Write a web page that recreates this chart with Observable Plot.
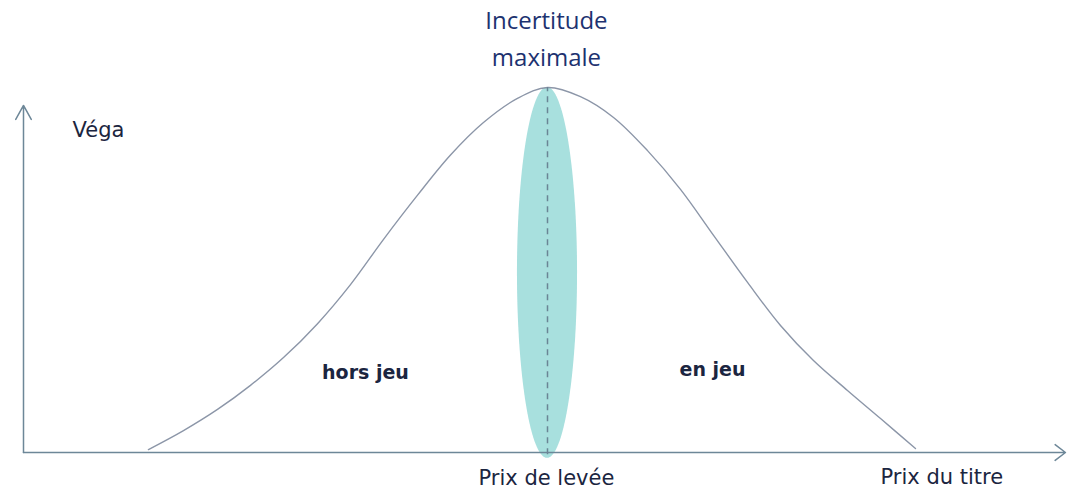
<!DOCTYPE html>
<html>
<head>
<meta charset="utf-8">
<script src="https://cdn.jsdelivr.net/npm/d3@7"></script>
<script src="https://cdn.jsdelivr.net/npm/@observablehq/plot@0.6"></script>
<style>
  html, body { margin: 0; padding: 0; background: #ffffff; }
  #chart svg { display: block; }
</style>
</head>
<body>
<div id="chart"></div>
<script>
// Vega curve: underlying price vs vega (normalised, peak = 1)
const prices = [11.98, 15.34, 18.60, 21.76, 24.93, 28.19, 31.35, 34.52, 37.78, 40.94, 44.10, 47.36, 50.24,
                53.40, 56.57, 59.83, 62.99, 66.16, 69.42, 72.58, 75.74, 79.00, 82.17, 85.52];
const vegas  = [0.008, 0.060, 0.118, 0.184, 0.260, 0.353, 0.460, 0.584, 0.705, 0.815, 0.904, 0.970, 1.000,
                0.975, 0.918, 0.827, 0.721, 0.595, 0.466, 0.348, 0.252, 0.170, 0.093, 0.011];

// Strike (prix de levée) and the uncertainty zone around it
const strike = 50.24;
const zoneHalfWidth = 2.88;   // in price units
const zoneBottom = -0.016;    // in vega units
const zoneTop = 1.0;

// Axis extents
const xAxisEnd = 99.9;
const yAxisEnd = 0.951;

// Labels
const labelTexts = ["Véga", "hors jeu", "en jeu", "Prix de levée", "Prix du titre"];
const labelX     = [4.70, 32.79, 66.06, 50.14, 82.17];
const labelY     = [0.882, 0.219, 0.225, -0.071, -0.068];
const labelAnchor = ["start", "middle", "middle", "middle", "start"];
const labelWeight = ["normal", "bold", "bold", "normal", "normal"];
const titleText = "Incertitude\nmaximale";
const titleX = 50.14;
const titleY = 1.143;

const curve = prices.map((p, i) => ({price: p, vega: vegas[i]}));
const labels = labelTexts.map((t, i) => ({text: t, x: labelX[i], y: labelY[i], anchor: labelAnchor[i], weight: labelWeight[i]}));

// ellipse outline for the shaded zone (geometry, not data)
const cy = (zoneTop + zoneBottom) / 2, ry = (zoneTop - zoneBottom) / 2;
const zone = d3.range(0, 201).map(k => {
  const a = -Math.PI / 2 + Math.PI * k / 200;
  const c = Math.cos(a);
  return {y: cy + ry * Math.sin(a), x1: strike - zoneHalfWidth * c, x2: strike + zoneHalfWidth * c};
});

const textFill = "#1b2540";
const chart = Plot.plot({
  width: 1067,
  height: 490,
  marginTop: 0,
  marginLeft: 23,
  marginRight: 1,
  marginBottom: 38,
  x: {domain: [0, 100], axis: null},
  y: {domain: [0, 452 / 365], axis: null},
  style: {background: "#ffffff", overflow: "visible"},
  marks: [
    Plot.areaX(zone, {y: "y", x1: "x1", x2: "x2", fill: "#a8e0de", curve: "linear"}),
    Plot.line(curve, {x: "price", y: "vega", stroke: "#8c96a8", strokeWidth: 1.4, curve: "catmull-rom"}),
    Plot.ruleX([strike], {y1: zoneBottom + 0.01, y2: zoneTop, stroke: "#6a8595", strokeWidth: 1.5, strokeDasharray: "6,5"}),
    Plot.arrow([{x1: 0, y1: 0, x2: xAxisEnd, y2: 0}], {x1: "x1", y1: "y1", x2: "x2", y2: "y2", stroke: "#6d8798", strokeWidth: 1.5, headLength: 13, headAngle: 75}),
    Plot.arrow([{x1: 0, y1: 0, x2: 0, y2: yAxisEnd}], {x1: "x1", y1: "y1", x2: "x2", y2: "y2", stroke: "#6d8798", strokeWidth: 1.5, headLength: 16, headAngle: 58}),
    Plot.text(labels.filter(d => d.weight === "normal" && d.anchor === "start"), {x: "x", y: "y", text: "text", textAnchor: "start", fontSize: 21, fontFamily: "DejaVu Sans", fill: textFill}),
    Plot.text(labels.filter(d => d.weight === "normal" && d.anchor === "middle"), {x: "x", y: "y", text: "text", textAnchor: "middle", fontSize: 21, fontFamily: "DejaVu Sans", fill: textFill}),
    Plot.text(labels.filter(d => d.weight === "bold"), {x: "x", y: "y", text: "text", textAnchor: "middle", fontSize: 19, fontWeight: "bold", fontFamily: "DejaVu Sans", fill: textFill}),
    Plot.text([titleText], {x: titleX, y: titleY, text: d => d, fontSize: 24, lineHeight: 1.55, fontFamily: "Open Sans", fill: "#1d3270"})
  ]
});
document.getElementById("chart").appendChild(chart);
</script>
</body>
</html>
